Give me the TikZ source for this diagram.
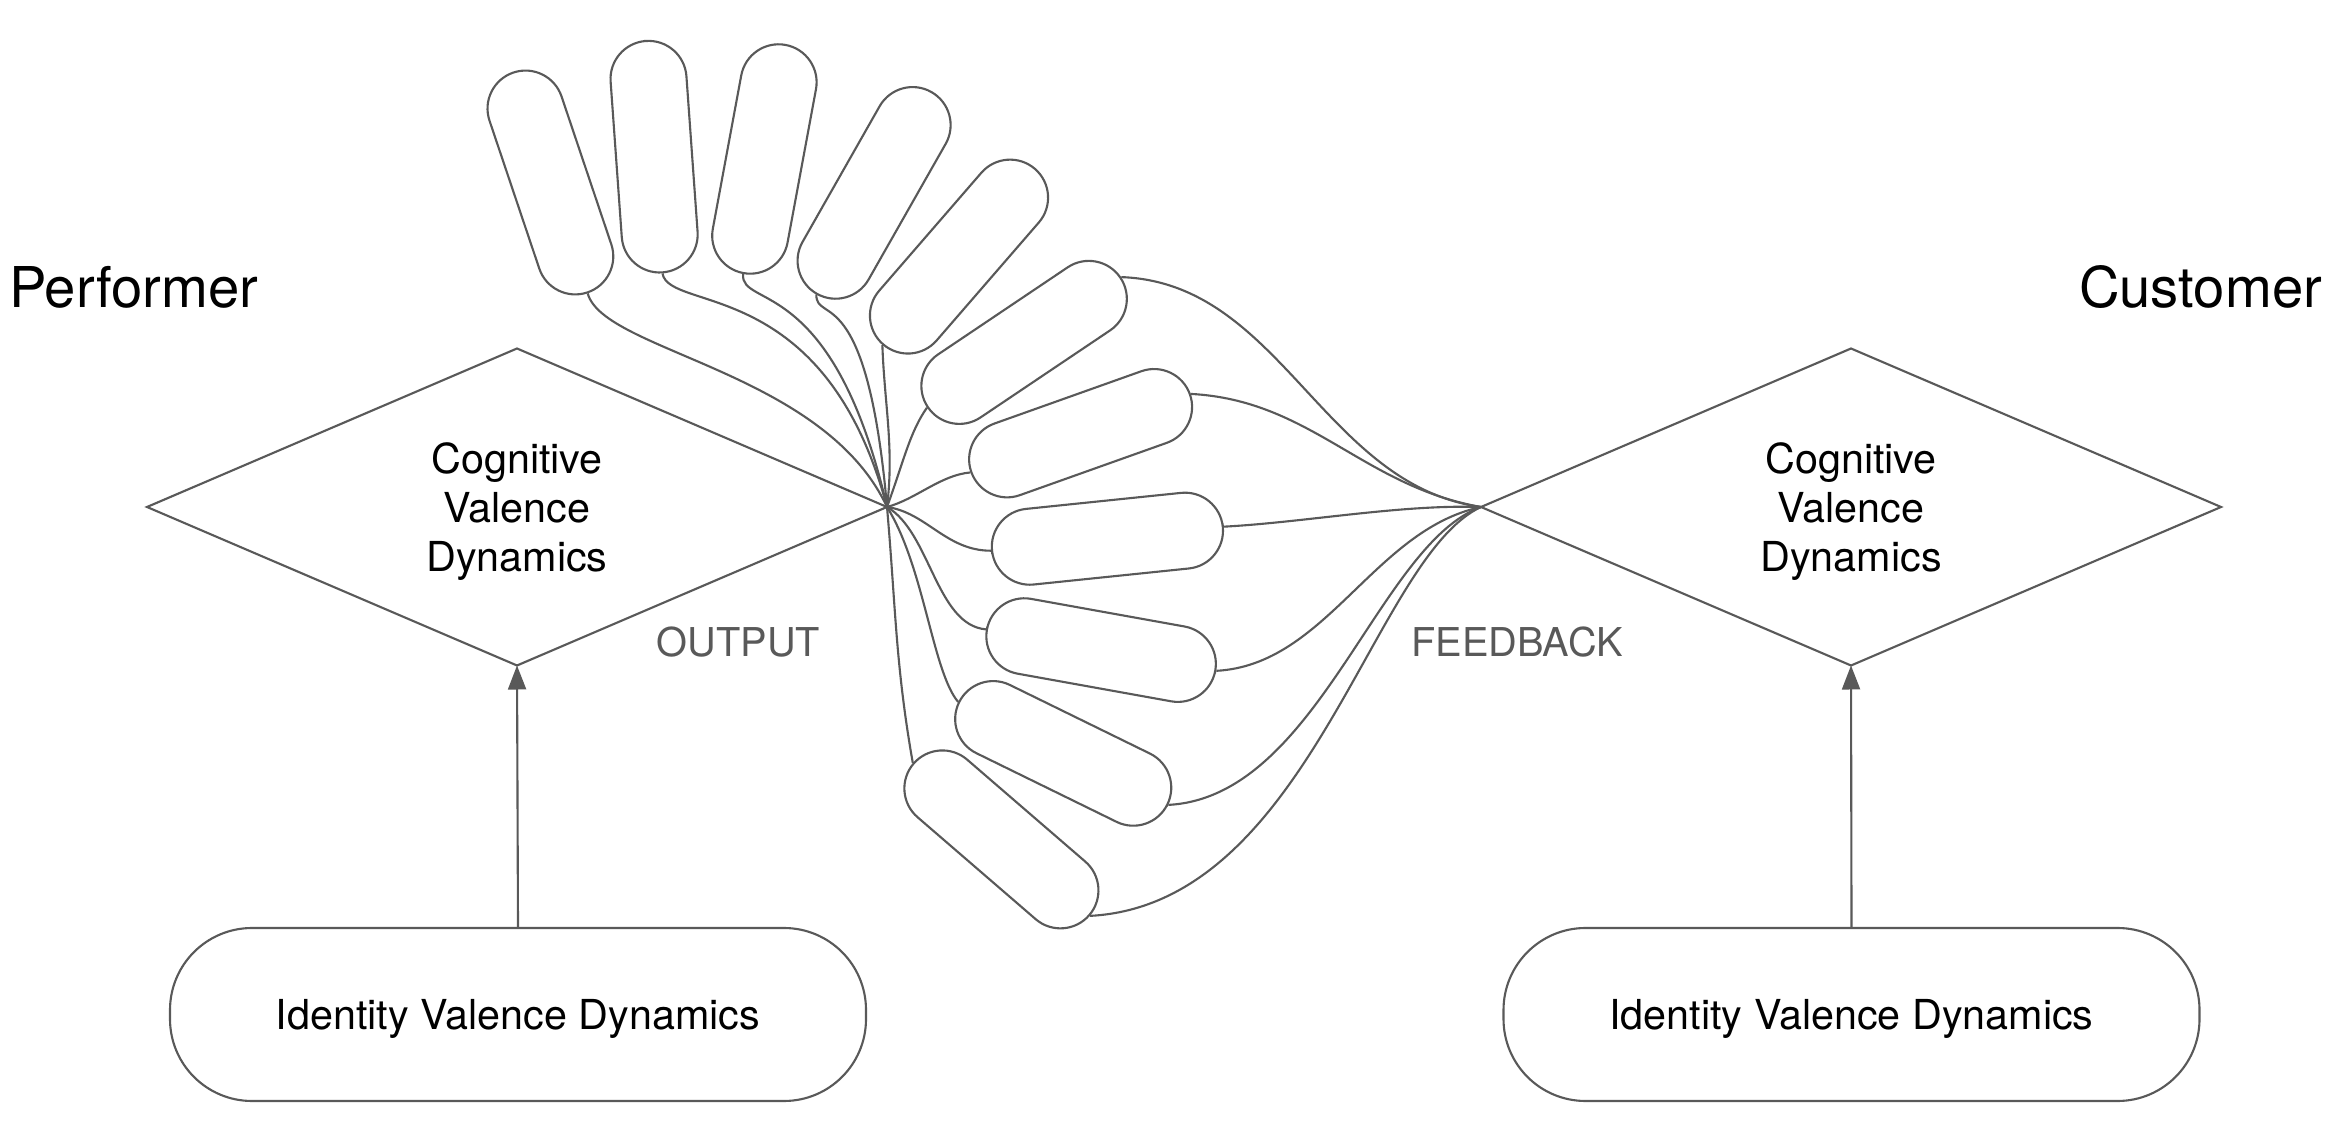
\documentclass[tikz,border=0pt]{standalone}
\usepackage{fontspec}
\setmainfont{TeX Gyre Heros}
\usepackage{tikz}
\definecolor{linegray}{HTML}{595959}
\usetikzlibrary{positioning, arrows.meta, shapes.geometric}
\tikzstyle{arrow} = [draw=linegray,-{Triangle[length=2.4mm,width=1.8mm]}]

\begin{document}
\begin{tikzpicture}[line width=0.6pt]
                    \tikzstyle{every node}=[font=\fontsize{11.75}{13.9}\selectfont] \tikzstyle{title} =
                    [inner sep=0pt, font=\fontsize{16}{19}\selectfont] \tikzstyle{dmd} =
                    [diamond, draw=linegray, aspect=2.33, minimum width=7.4cm, minimum height=3.17cm,
                    inner sep=0pt, outer sep=0pt, align=center, text depth=0pt] \tikzstyle{idbox} =
                    [rectangle, draw=linegray, rounded corners=8.2mm, minimum width=6.96cm,
                    minimum height=1.73cm, text depth=0pt] \tikzstyle{finger} =
                    [rectangle, draw=linegray, rounded corners=3.8mm, minimum width=2.32cm,
                    minimum height=0.76cm, inner sep=0pt] \tikzstyle{flowtext} =
                    [inner sep=0pt, anchor=base, text=linegray, font=\fontsize{11.3}{13.6}\selectfont]
                    \tikzstyle{link} = [draw=linegray]

                    \path[use as bounding box, fill=white] (0,0) rectangle (23.44,11.40);

                    \node[title, anchor=base west](t1) at (0.08,8.32) {Performer};
                    \node[title, anchor=base east](t2) at (23.23,8.32) {Customer};

                    \node[dmd](d1) at (5.17,6.33) {Cognitive\\Valence\\Dynamics};
                    \node[dmd](d2) at (18.51,6.33) {Cognitive\\Valence\\Dynamics};

                    \node[idbox](b1) at (5.18,1.255) {Identity Valence Dynamics};
                    \node[idbox](b2) at (18.515,1.255) {Identity Valence Dynamics};

                    \draw[arrow] (b1.north) -- (d1.south);
                    \draw[arrow] (b2.north) -- (d2.south);

                    \node[flowtext](o1) at (7.385,4.83) {OUTPUT};
                    \node[flowtext](o2) at (15.17,4.83) {FEEDBACK};

                    % the fan of outputs
                    \node[finger, rotate=108.6](p1) at (5.504,9.575) {};
                    \node[finger, rotate=94.1](p2) at (6.541,9.833) {};
                    \node[finger, rotate=79.5](p3) at (7.644,9.81) {};
                    \node[finger, rotate=60.4](p4) at (8.741,9.471) {};
                    \node[finger, rotate=49.1](p5) at (9.590,8.834) {};
                    \node[finger, rotate=33.9](p6) at (10.241,7.976) {};
                    \node[finger, rotate=19.6](p7) at (10.806,7.068) {};
                    \node[finger, rotate=5.9](p8) at (11.074,6.013) {};
                    \node[finger, rotate=-10.2](p9) at (11.011,4.899) {};
                    \node[finger, rotate=-26.1](p10) at (10.632,3.866) {};
                    \node[finger, rotate=-40.8](p11) at (10.014,3.006) {};

                    \draw[link] (d1.east) .. controls +(115:1.5) and +(-75:0.6) .. (p1.west);
                    \draw[link] (d1.east) .. controls +(105:2.4) and +(-80:0.4) .. (p2.west);
                    \draw[link] (d1.east) .. controls +(103:2.4) and +(-95:0.35) .. (p3.west);
                    \draw[link] (d1.east) .. controls +(95:2.3) and +(-90:0.3) .. (p4.west);
                    \draw[link] (d1.east) .. controls +(83:0.6) and +(-88:0.6) .. (p5.west);
                    \draw[link] (d1.east) .. controls +(70:0.5) and +(235:0.3) .. (p6.west);
                    \draw[link] (d1.east) .. controls +(15:0.3) and +(185:0.3) .. (p7.west);
                    \draw[link] (d1.east) .. controls +(-8:0.4) and +(180:0.45) .. (p8.west);
                    \draw[link] (d1.east) .. controls +(-30:0.5) and +(175:0.5) .. (p9.west);
                    \draw[link] (d1.east) .. controls +(-58:0.7) and +(130:0.4) .. (p10.west);
                    \draw[link] (d1.east) .. controls +(-85:1.0) and +(100:1.0) .. (p11.west);

                    % feedback back to the customer
                    \draw[link] (p6.east) .. controls +(-2:1.6) and +(172:1.6) .. (d2.west);
                    \draw[link] (p7.east) .. controls +(-3:1.2) and +(170:1.2) .. (d2.west);
                    \draw[link] (p8.east) .. controls +(3:0.8) and +(178:0.8) .. (d2.west);
                    \draw[link] (p9.east) .. controls +(3:1.1) and +(192:1.1) .. (d2.west);
                    \draw[link] (p10.east) .. controls +(3:1.5) and +(200:1.1) .. (d2.west);
                    \draw[link] (p11.east) .. controls +(3:2.2) and +(205:1.2) .. (d2.west);
\end{tikzpicture}
\end{document}
